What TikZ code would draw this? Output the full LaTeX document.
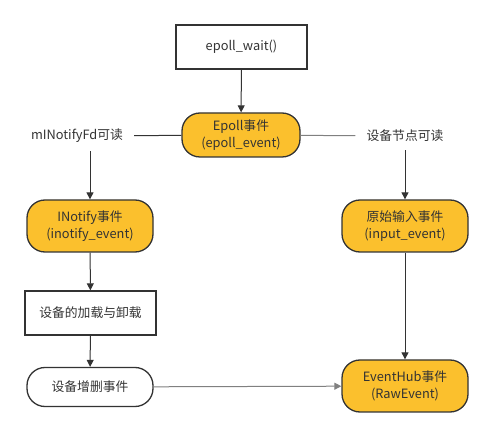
\documentclass[tikz,border=0pt]{standalone}
\usepackage{fontspec}
\setmainfont{Noto Sans CJK SC}
\usetikzlibrary{positioning,arrows.meta}
\definecolor{evfill}{RGB}{251,192,45}
\definecolor{ink}{RGB}{51,51,51}

\begin{document}
\begin{tikzpicture}[x=1pt,y=-1pt,>={Triangle[length=7pt,width=7pt]},
  font=\fontsize{12.8}{17.5}\selectfont,text=ink,
  plainbox/.style={draw=ink,line width=1.3pt,fill=white,minimum width=131pt,minimum height=44pt,inner sep=0pt},
  eventnode/.style={draw=ink,line width=1.3pt,fill=evfill,rounded corners=18pt,minimum width=126pt,minimum height=52pt,inner sep=0pt,align=center},
  edgelabel/.style={inner xsep=11pt,inner ysep=8pt},
  flow/.style={->,draw=ink,line width=1pt}]
\useasboundingbox (0,0) rectangle (493,438);
\node[plainbox] (wait) at (241.5,47) {epoll\_wait()};
\node[eventnode,minimum width=118pt,minimum height=44pt] (epoll) at (241,135) {Epoll事件\\(epoll\_event)};
\node[edgelabel] (fdread) at (77,136) {mINotifyFd可读};
\node[edgelabel] (devread) at (405,136) {设备节点可读};
\node[eventnode] (inotify) at (90,226) {INotify事件\\(inotify\_event)};
\node[eventnode] (input) at (405,226) {原始输入事件\\(input\_event)};
\node[plainbox] (load) at (90.5,313) {设备的加载与卸载};
\node[eventnode,fill=white,minimum height=39pt] (adddel) at (90,387) {设备增删事件};
\node[eventnode] (hub) at (405,386) {EventHub事件\\(RawEvent)};
% connectors
\draw[flow] (wait) -- (epoll);
\draw[draw=ink,line width=1pt] (epoll) -- (fdread);
\draw[draw=gray,line width=1pt] (epoll) -- (devread);
\draw[flow] (fdread.south -| inotify.north) -- (inotify.north);
\draw[flow] (devread) -- (input);
\draw[flow] (inotify) -- (load);
\draw[flow] (load) -- (adddel);
\draw[flow] (input) -- (hub);
\draw[flow,draw=gray] (adddel) -- (hub);
\end{tikzpicture}
\end{document}
